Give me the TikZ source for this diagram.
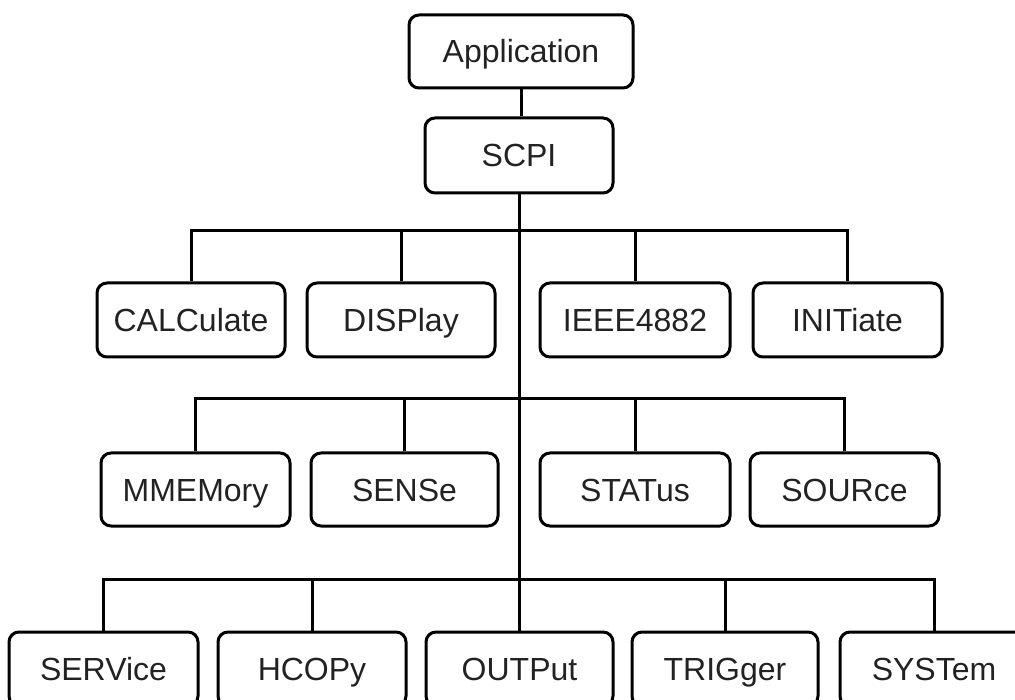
\documentclass[tikz,border=0pt]{standalone}
\usepackage{fontspec}
\setmainfont{Liberation Sans}
\definecolor{txt}{HTML}{222222}
\begin{document}
\begin{tikzpicture}[x=1pt,y=-1pt,
  box/.style={draw, line width=3pt, rounded corners=10pt, inner sep=0pt,
    text=txt, text height=23pt, text depth=0pt, font=\fontsize{32}{36}\selectfont,
    minimum width=188pt, minimum height=74pt},
  conn/.style={line width=3pt, line join=miter}]
\useasboundingbox (0,0) rectangle (1015,700);
\clip (0,0) rectangle (1015,700);
\node[box, minimum width=224pt, minimum height=73pt] (app) at (521,51.5) {Application};
\node[box, minimum height=75pt] (scpi) at (519,155.5) {SCPI};
% row 1
\node[box] (calc) at (191,320) {CALCulate};
\node[box] (disp) at (401,320) {DISPlay};
\node[box, minimum width=190pt] (ieee) at (635,320) {IEEE4882};
\node[box, minimum width=189pt] (init) at (847.5,320) {INITiate};
% row 2
\node[box, minimum width=189pt, minimum height=73pt] (mmem) at (195.5,489.5) {MMEMory};
\node[box, minimum width=187pt, minimum height=73pt] (sens) at (404.5,489.5) {SENSe};
\node[box, minimum width=190pt, minimum height=73pt] (stat) at (635,489.5) {STATus};
\node[box, minimum width=189pt, minimum height=73pt] (sour) at (844.5,489.5) {SOURce};
% row 3
\node[box, minimum width=189pt] (serv) at (103.5,669) {SERVice};
\node[box] (hcop) at (312,669) {HCOPy};
\node[box, minimum width=187pt] (outp) at (519.5,669) {OUTPut};
\node[box, minimum width=186pt] (trig) at (725,669) {TRIGger};
\node[box] (syst) at (934,669) {SYSTem};
% connectors
\draw[conn] (app.south) -- (app.south |- scpi.north);
\draw[conn] (scpi.south) -- (scpi.south |- outp.north);
\coordinate (b1) at (0,231);
\coordinate (b2) at (0,399);
\coordinate (b3) at (0,579);
\draw[conn] (calc.north) -- (calc.north |- b1) -- (init.north |- b1) -- (init.north);
\draw[conn] (disp.north) -- (disp.north |- b1);
\draw[conn] (ieee.north) -- (ieee.north |- b1);
\draw[conn] (mmem.north) -- (mmem.north |- b2) -- (sour.north |- b2) -- (sour.north);
\draw[conn] (sens.north) -- (sens.north |- b2);
\draw[conn] (stat.north) -- (stat.north |- b2);
\draw[conn] (serv.north) -- (serv.north |- b3) -- (syst.north |- b3) -- (syst.north);
\draw[conn] (hcop.north) -- (hcop.north |- b3);
\draw[conn] (trig.north) -- (trig.north |- b3);
\end{tikzpicture}
\end{document}
